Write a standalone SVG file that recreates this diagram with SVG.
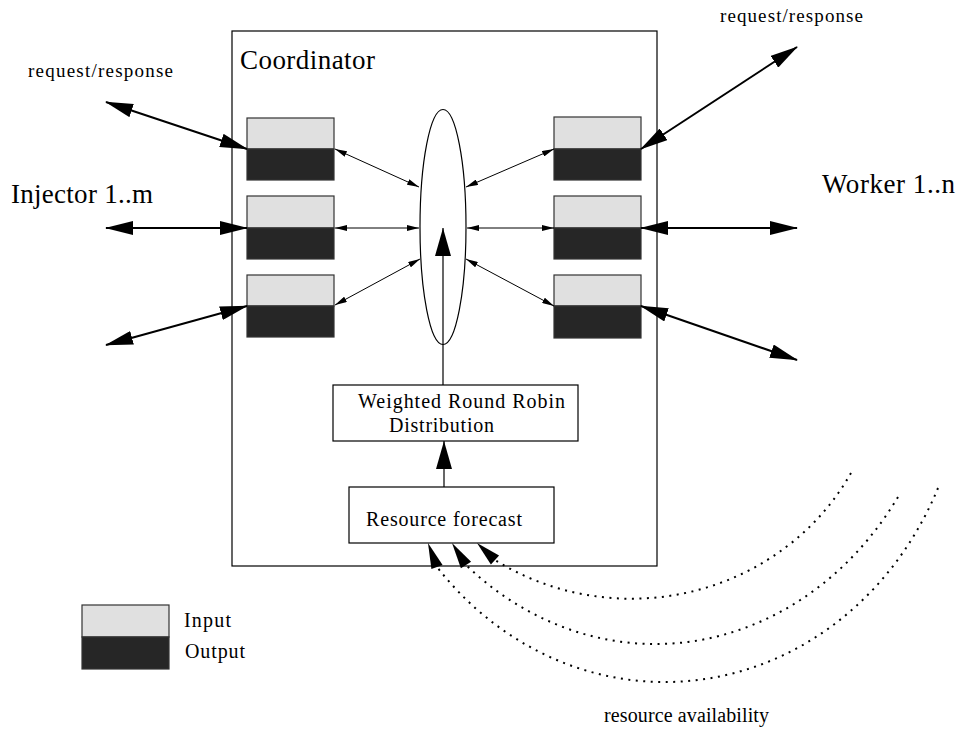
<svg xmlns="http://www.w3.org/2000/svg" width="958" height="729" viewBox="0 0 958 729">
  <style>
    text { font-family: "Liberation Serif", "Times New Roman", serif; fill: #000; }
    .box { fill: #fff; stroke: #000; stroke-width: 1.2; }
    .qin { fill: #e0e0e0; stroke: #333; stroke-width: 1.2; }
    .qout { fill: #262626; stroke: #333; stroke-width: 1.2; }
    .thick { stroke: #000; stroke-width: 2; fill: none; marker-start: url(#bigHead); marker-end: url(#bigHead); }
    .thin { stroke: #000; stroke-width: 1; fill: none; marker-start: url(#smallHead); marker-end: url(#smallHead); }
    .up { stroke: #000; stroke-width: 1.2; fill: none; marker-end: url(#tallHead); }
    .dots { stroke: #000; stroke-width: 2; fill: none; stroke-dasharray: 2 5.5; }
    .head { fill: #000; }
  </style>
  <defs>
    <marker id="bigHead" viewBox="0 0 28 14" refX="27" refY="7" markerWidth="28" markerHeight="14" markerUnits="userSpaceOnUse" orient="auto-start-reverse">
      <path d="M0,0 L28,7 L0,14 Z" fill="#000"/>
    </marker>
    <marker id="smallHead" viewBox="0 0 12 6" refX="12" refY="3" markerWidth="12" markerHeight="6" markerUnits="userSpaceOnUse" orient="auto-start-reverse">
      <path d="M0,0 L12,3 L0,6 Z" fill="#000"/>
    </marker>
    <marker id="tallHead" viewBox="0 0 28 16" refX="28" refY="8" markerWidth="28" markerHeight="16" markerUnits="userSpaceOnUse" orient="auto">
      <path d="M0,0 L28,8 L0,16 Z" fill="#000"/>
    </marker>
  </defs>

  <!-- coordinator frame -->
  <g id="coordinator">
    <rect class="box" x="232" y="31" width="425" height="535"/>
    <text x="240" y="69" font-size="27" textLength="135">Coordinator</text>
  </g>

  <!-- injector-side queues -->
  <g id="queue-in-1"><rect class="qin" x="247" y="118" width="87" height="31"/><rect class="qout" x="247" y="149" width="87" height="31"/></g>
  <g id="queue-in-2"><rect class="qin" x="247" y="196" width="87" height="32"/><rect class="qout" x="247" y="228" width="87" height="31"/></g>
  <g id="queue-in-3"><rect class="qin" x="247" y="275" width="87" height="31"/><rect class="qout" x="247" y="306" width="87" height="31"/></g>

  <!-- worker-side queues -->
  <g id="queue-out-1"><rect class="qin" x="554" y="117" width="87" height="32"/><rect class="qout" x="554" y="149" width="87" height="31"/></g>
  <g id="queue-out-2"><rect class="qin" x="554" y="196" width="87" height="32"/><rect class="qout" x="554" y="228" width="87" height="31"/></g>
  <g id="queue-out-3"><rect class="qin" x="554" y="275" width="87" height="31"/><rect class="qout" x="554" y="306" width="87" height="32"/></g>

  <!-- central dispatcher -->
  <g id="dispatcher">
    <ellipse cx="443" cy="227" rx="23" ry="117.5" fill="none" stroke="#000" stroke-width="1.2"/>
  </g>

  <g id="wrr">
    <rect class="box" x="333" y="385" width="245" height="56"/>
    <text x="358" y="408" font-size="20" textLength="207">Weighted Round Robin</text>
    <text x="389" y="432" font-size="20" textLength="105">Distribution</text>
  </g>

  <g id="forecast">
    <rect class="box" x="349" y="487" width="205" height="56"/>
    <text x="366" y="526" font-size="20" textLength="156">Resource forecast</text>
  </g>

  <!-- outside labels -->
  <g id="injectors">
    <text x="11" y="203" font-size="27" textLength="142">Injector 1..m</text>
  </g>
  <g id="workers">
    <text x="822" y="193" font-size="27" textLength="133">Worker 1..n</text>
  </g>
  <g id="labels">
    <text x="28" y="77" font-size="19" textLength="145">request/response</text>
    <text x="720" y="22" font-size="19" textLength="143">request/response</text>
    <text x="604" y="722" font-size="20" textLength="165">resource availability</text>
  </g>

  <!-- legend -->
  <g id="legend">
    <rect class="qin" x="82" y="605" width="87" height="32"/>
    <rect class="qout" x="82" y="637" width="87" height="32"/>
    <text x="184" y="627" font-size="20" textLength="47">Input</text>
    <text x="185" y="658" font-size="20" textLength="60">Output</text>
  </g>

  <g id="connectors">
    <!-- external request/response links -->
    <line class="thick" x1="106" y1="102" x2="247" y2="149"/>
    <line class="thick" x1="106" y1="228" x2="247" y2="228"/>
    <line class="thick" x1="106" y1="345" x2="247" y2="306"/>
    <line class="thick" x1="641" y1="149" x2="797" y2="47"/>
    <line class="thick" x1="641" y1="228" x2="797" y2="228"/>
    <line class="thick" x1="641" y1="306" x2="797" y2="360"/>

    <!-- queue to dispatcher links -->
    <line class="thin" x1="335" y1="149" x2="419" y2="187"/>
    <line class="thin" x1="335" y1="228" x2="419" y2="228"/>
    <line class="thin" x1="335" y1="305" x2="420" y2="259"/>
    <line class="thin" x1="466" y1="187" x2="554" y2="149"/>
    <line class="thin" x1="467" y1="228" x2="554" y2="228"/>
    <line class="thin" x1="466" y1="259" x2="554" y2="306"/>

    <!-- internal flow -->
    <line class="up" x1="443" y1="385" x2="443" y2="228"/>
    <line class="up" x1="444" y1="487" x2="444" y2="441"/>

    <!-- resource availability feeds -->
    <path class="dots" d="M938,488 A300,330 0 0 1 437,567"/>
    <path class="dots" d="M898,497 A295,340 0 0 1 466,565"/>
    <path class="dots" d="M851,473 A250,240 0 0 1 495,560"/>
    <polygon class="head" points="428,543 442.6,564.9 431.4,569.1"/>
    <polygon class="head" points="452,543 471.1,561.8 460.9,568.2"/>
    <polygon class="head" points="477,543 499.1,555.6 490.9,564.4"/>
  </g>
</svg>
